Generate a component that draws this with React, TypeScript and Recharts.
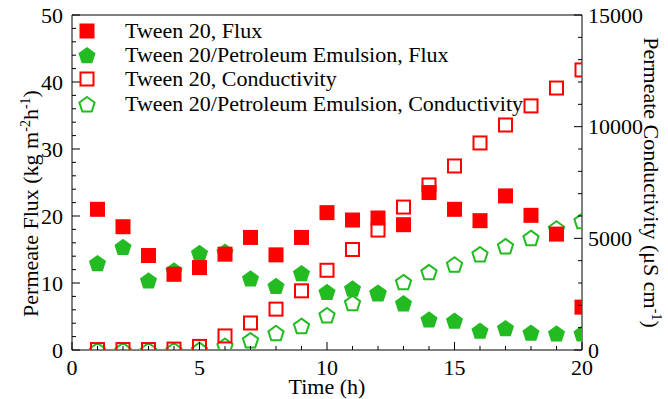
import React from "react";
import { Legend, ReferenceLine, Scatter, ScatterChart, XAxis, YAxis } from "recharts";

// time (h)
const hours = [1, 2, 3, 4, 5, 6, 7, 8, 9, 10, 11, 12, 13, 14, 15, 16, 17, 18, 19, 20];

// permeate flux (kg m-2 h-1)
const fluxTween = [21.0, 18.4, 14.1, 11.3, 12.3, 14.3, 16.8, 14.2, 16.8, 20.5, 19.4, 19.7, 18.7, 23.5, 21.0, 19.3, 23.0, 20.1, 17.3, 6.4];
const fluxEmulsion = [13.0, 15.4, 10.4, 11.9, 14.5, 14.7, 10.7, 9.6, 11.5, 8.7, 9.2, 8.6, 7.0, 4.6, 4.4, 2.9, 3.3, 2.6, 2.5, 2.5];

// permeate conductivity (uS cm-1)
const condTween = [20, 20, 20, 40, 160, 630, 1210, 1830, 2650, 3570, 4500, 5370, 6400, 7390, 8240, 9270, 10075, 10930, 11730, 12540];
const condEmulsion = [0, 0, 0, 0, 20, 200, 450, 770, 1090, 1570, 2120, 2550, 3050, 3500, 3840, 4300, 4660, 5030, 5450, 5790];

const timeTicks = [0, 1, 2, 3, 4, 5, 6, 7, 8, 9, 10, 11, 12, 13, 14, 15, 16, 17, 18, 19, 20];
const fluxTicks = [0, 2, 4, 6, 8, 10, 12, 14, 16, 18, 20, 22, 24, 26, 28, 30, 32, 34, 36, 38, 40, 42, 44, 46, 48, 50];
const condTicks = [0, 1000, 2000, 3000, 4000, 5000, 6000, 7000, 8000, 9000, 10000, 11000, 12000, 13000, 14000, 15000];

const legendItems = [
  { label: "Tween 20, Flux", marker: "square", filled: true },
  { label: "Tween 20/Petroleum Emulsion, Flux", marker: "pentagon", filled: true },
  { label: "Tween 20, Conductivity", marker: "square", filled: false },
  { label: "Tween 20/Petroleum Emulsion, Conductivity", marker: "pentagon", filled: false },
];

const RED = "#ff0000";
const GREEN = "#22bb22";
const FONT = "'Liberation Serif', 'Times New Roman', serif";
const FS = 22;

const toPoints = (values: number[]) => hours.map((x, i) => ({ x, y: values[i] }));

function pentagon(cx: number, cy: number, r: number) {
  const pts = [];
  for (let k = 0; k < 5; k++) {
    const a = -Math.PI / 2 + (k * 2 * Math.PI) / 5;
    pts.push(`${cx + r * Math.cos(a)},${cy + r * Math.sin(a) + 1}`);
  }
  return pts.join(" ");
}

function Marker({ cx, cy, marker, filled }: any) {
  const color = marker === "square" ? RED : GREEN;
  if (marker === "square") {
    return filled ? (
      <rect x={cx - 7.5} y={cy - 7.5} width={15} height={15} fill={color} />
    ) : (
      <rect x={cx - 6.5} y={cy - 6.5} width={13} height={13} fill="none" stroke={color} strokeWidth={2} />
    );
  }
  return filled ? (
    <polygon points={pentagon(cx, cy, 9)} fill={color} />
  ) : (
    <polygon points={pentagon(cx, cy, 8)} fill="none" stroke={color} strokeWidth={2} />
  );
}

function BottomTick({ x, y, payload }: any) {
  const v = payload.value;
  const major = v % 5 === 0;
  return (
    <g>
      <line x1={x} x2={x} y1={y} y2={y - (major ? 8 : 4)} stroke="#000" />
      {major && (
        <text x={x} y={y + 9} dy="0.71em" textAnchor="middle" fontFamily={FONT} fontSize={FS} fill="#000">
          {v}
        </text>
      )}
    </g>
  );
}

function LeftTick({ x, y, payload }: any) {
  const v = payload.value;
  const major = v % 10 === 0;
  return (
    <g>
      <line x1={x} x2={x + (major ? 8 : 4)} y1={y} y2={y} stroke="#000" />
      {major && (
        <text x={x - 9} y={y} dy="0.35em" textAnchor="end" fontFamily={FONT} fontSize={FS} fill="#000">
          {v}
        </text>
      )}
    </g>
  );
}

function RightTick({ x, y, payload }: any) {
  const v = payload.value;
  const major = v % 5000 === 0;
  return (
    <g>
      <line x1={x} x2={x - (major ? 8 : 4)} y1={y} y2={y} stroke="#000" />
      {major && (
        <text x={x + 6} y={y} dy="0.35em" textAnchor="start" fontFamily={FONT} fontSize={FS} fill="#000">
          {v}
        </text>
      )}
    </g>
  );
}

function renderLegend() {
  return (
    <div style={{ fontFamily: FONT, fontSize: FS, color: "#000" }}>
      {legendItems.map((item) => (
        <div key={item.label} style={{ display: "flex", alignItems: "center", height: 24.2, whiteSpace: "nowrap" }}>
          <svg width={20} height={20} style={{ marginRight: 28 }}>
            <Marker cx={10} cy={10} marker={item.marker} filled={item.filled} />
          </svg>
          <span>{item.label}</span>
        </div>
      ))}
    </div>
  );
}

export default function App() {
  return (
    <div style={{ position: "absolute", left: 0, top: 0, background: "#fff" }}>
      <ScatterChart width={668} height={399} margin={{ top: 15, right: 0, bottom: 0, left: 0 }}>
        <XAxis
          xAxisId="t"
          type="number"
          dataKey="x"
          domain={[0, 20]}
          ticks={timeTicks}
          interval={0}
          allowDataOverflow
          height={49}
          tickSize={0}
          tickMargin={0}
          tickLine={false}
          tick={<BottomTick />}
          axisLine={{ stroke: "#000" }}
          label={{
            content: ({ viewBox }: any) => (
              <text x={viewBox.x + viewBox.width / 2} y={viewBox.y + 44} textAnchor="middle" fontFamily={FONT} fontSize={FS}>
                Time (h)
              </text>
            ),
          }}
        />
        <YAxis
          yAxisId="flux"
          type="number"
          dataKey="y"
          domain={[0, 50]}
          ticks={fluxTicks}
          interval={0}
          allowDataOverflow
          width={72}
          tickSize={0}
          tickMargin={0}
          tickLine={false}
          tick={<LeftTick />}
          axisLine={{ stroke: "#000" }}
          label={{
            content: ({ viewBox }: any) => (
              <text transform={`translate(30, ${viewBox.y + viewBox.height / 2 + 21}) rotate(-90)`} dy="0.35em" textAnchor="middle" fontFamily={FONT} fontSize={FS}>
                Permeate Flux (kg m
                <tspan fontSize={14} dy={-8}>-2</tspan>
                <tspan dy={8}>h</tspan>
                <tspan fontSize={14} dy={-8}>-1</tspan>
                <tspan dy={8}>)</tspan>
              </text>
            ),
          }}
        />
        <YAxis
          yAxisId="cond"
          orientation="right"
          type="number"
          dataKey="y"
          domain={[0, 15000]}
          ticks={condTicks}
          interval={0}
          allowDataOverflow
          width={86}
          tickSize={0}
          tickMargin={0}
          tickLine={false}
          tick={<RightTick />}
          axisLine={{ stroke: "#000" }}
          label={{
            content: ({ viewBox }: any) => (
              <text transform={`translate(652, ${viewBox.y + viewBox.height / 2}) rotate(90)`} dy="0.35em" textAnchor="middle" fontFamily={FONT} fontSize={FS}>
                Permeate Conductivity (μS cm
                <tspan fontSize={14} dy={-8}>-1</tspan>
                <tspan dy={8}>)</tspan>
              </text>
            ),
          }}
        />
        <ReferenceLine xAxisId="t" yAxisId="flux" y={50} stroke="#000" />
        <Legend
          layout="horizontal"
          verticalAlign="middle"
          align="center"
          content={renderLegend}
          wrapperStyle={{ left: 77, top: 19, width: 480 }}
        />
        <Scatter
          name="Tween 20/Petroleum Emulsion, Conductivity"
          xAxisId="t"
          yAxisId="cond"
          data={toPoints(condEmulsion)}
          isAnimationActive={false}
          shape={(p: any) => <Marker cx={p.cx} cy={p.cy} marker="pentagon" filled={false} />}
        />
        <Scatter
          name="Tween 20, Conductivity"
          xAxisId="t"
          yAxisId="cond"
          data={toPoints(condTween)}
          isAnimationActive={false}
          shape={(p: any) => <Marker cx={p.cx} cy={p.cy} marker="square" filled={false} />}
        />
        <Scatter
          name="Tween 20/Petroleum Emulsion, Flux"
          xAxisId="t"
          yAxisId="flux"
          data={toPoints(fluxEmulsion)}
          isAnimationActive={false}
          shape={(p: any) => <Marker cx={p.cx} cy={p.cy} marker="pentagon" filled />}
        />
        <Scatter
          name="Tween 20, Flux"
          xAxisId="t"
          yAxisId="flux"
          data={toPoints(fluxTween)}
          isAnimationActive={false}
          shape={(p: any) => <Marker cx={p.cx} cy={p.cy} marker="square" filled />}
        />
      </ScatterChart>
    </div>
  );
}
